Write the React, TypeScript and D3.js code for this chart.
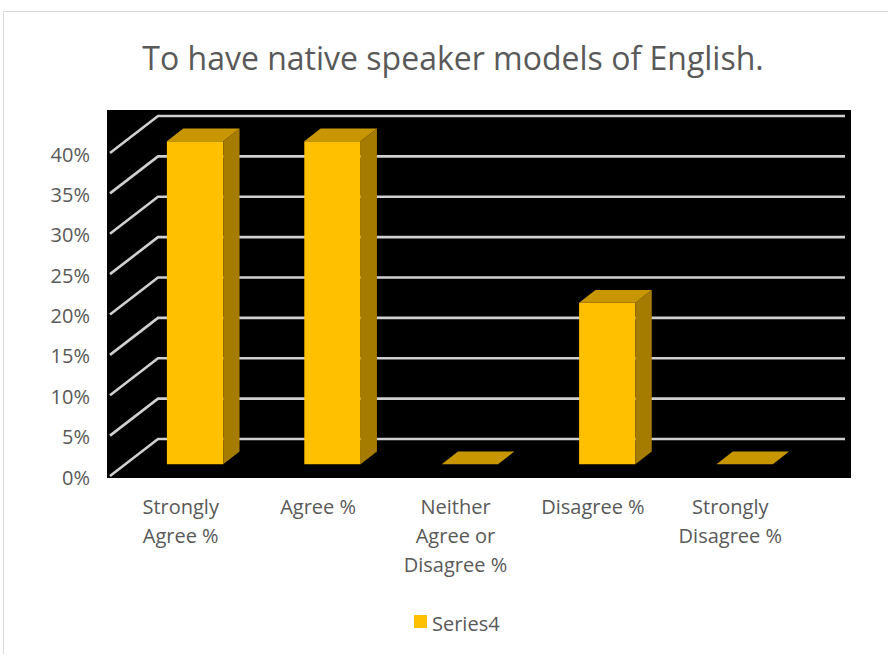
import React from "react";
import * as d3 from "d3";

const title = "To have native speaker models of English.";
const categories = ["Strongly Agree %", "Agree %", "Neither Agree or Disagree %", "Disagree %", "Strongly Disagree %"];
const categoryLines = [["Strongly", "Agree %"], ["Agree %"], ["Neither", "Agree or", "Disagree %"], ["Disagree %"], ["Strongly", "Disagree %"]];
const values = [0.4, 0.4, 0, 0.2, 0];
const tickValues = [0, 0.05, 0.1, 0.15, 0.2, 0.25, 0.3, 0.35, 0.4];
const seriesName = "Series4";

const W = 888, H = 654;
const FONT = "'Open Sans', 'Liberation Sans', sans-serif";
const TEXT = "#595959";

export default function App() {
  // front plane geometry
  const x = d3.scaleBand<string>().domain(categories).range([110, 797]).padding(0);
  const y = d3.scaleLinear().domain([0, 0.4]).range([476, 153]);
  const DX = 48, DY = -37; // depth offset of the back wall
  const off = (d: number): [number, number] => [DX * d, DY * d];
  const d0 = 0.32, d1 = 0.66;
  const barW = x.bandwidth() * 0.41;

  const pt = (px: number, py: number, d: number) => {
    const [ox, oy] = off(d);
    return `${px + ox},${py + oy}`;
  };

  return (
    <svg width={W} height={H} style={{ position: "absolute", left: 0, top: 0, background: "#fff" }}>
      <rect x={3.5} y={11.5} width={W} height={H} fill="#fff" stroke="#d9d9d9" strokeWidth={1} />
      <text x={453} y={57} textAnchor="middle" dominantBaseline="central" fontFamily={FONT} fontSize={32} fill={TEXT}>{title}</text>
      <rect x={107} y={110} width={744} height={368} fill="#000" />
      {/* gridlines: side wall diagonals and back wall horizontals */}
      {tickValues.map((t) => {
        const yf = y(t);
        const [bx, by] = off(1);
        return (
          <g key={t}>
            <polyline
              points={`110,${yf} ${110 + bx},${yf + by} ${797 + bx},${yf + by}`}
              fill="none" stroke="#d0d0d0" strokeWidth={2.6} />
            <text x={90} y={yf + 1} textAnchor="end" dominantBaseline="central" fontFamily={FONT} fontSize={20} fill={TEXT}>
              {d3.format(".0%")(t)}
            </text>
          </g>
        );
      })}
      {/* bars */}
      {categories.map((c, i) => {
        const v = values[i];
        const cx = (x(c) as number) + x.bandwidth() / 2;
        const xl = cx - barW / 2 + 1, xr = cx + barW / 2 + 1;
        const yb = y(0), yt = y(v);
        return (
          <g key={c}>
            {v > 0 && (
              <>
                <polygon points={`${pt(xl, yb, d0)} ${pt(xr, yb, d0)} ${pt(xr, yt, d0)} ${pt(xl, yt, d0)}`} fill="#FFC000" />
                <polygon points={`${pt(xr, yb, d0)} ${pt(xr, yb, d1)} ${pt(xr, yt, d1)} ${pt(xr, yt, d0)}`} fill="#A67C00" />
              </>
            )}
            <polygon points={`${pt(xl, yt, d0)} ${pt(xr, yt, d0)} ${pt(xr, yt, d1)} ${pt(xl, yt, d1)}`} fill="#C89600" />
          </g>
        );
      })}
      {/* category labels */}
      {categories.map((c, i) => {
        const cx = (x(c) as number) + x.bandwidth() / 2 + 2;
        return (
          <text key={c} textAnchor="middle" fontFamily={FONT} fontSize={20} fill={TEXT}>
            {categoryLines[i].map((l, j) => (
              <tspan key={j} x={cx} y={514 + j * 29}>{l}</tspan>
            ))}
          </text>
        );
      })}
      {/* legend */}
      <rect x={414} y={615} width={13} height={13} fill="#FFC000" />
      <text x={432} y={623} dominantBaseline="central" fontFamily={FONT} fontSize={20} fill={TEXT}>{seriesName}</text>
    </svg>
  );
}
